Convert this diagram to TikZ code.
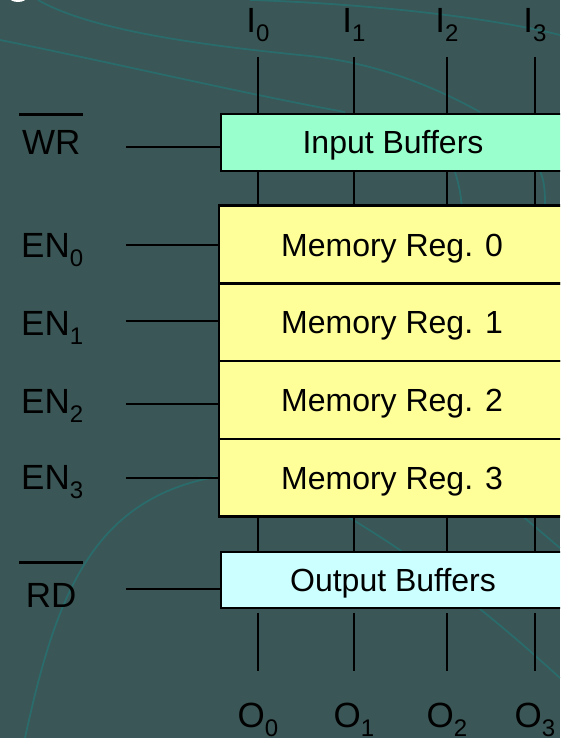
\documentclass[tikz,border=0pt]{standalone}
\usepackage{fontspec}
\setmainfont{Liberation Sans}
\usetikzlibrary{positioning}
\definecolor{memSlate}{RGB}{59,86,86}
\definecolor{memSwirl}{RGB}{42,108,108}
\definecolor{memMint}{RGB}{153,255,204}
\definecolor{memYellow}{RGB}{255,255,153}
\definecolor{memCyan}{RGB}{204,255,255}
\newcommand{\lowidx}[1]{\raisebox{-9pt}{\fontsize{24}{24}\selectfont #1}}
\newcommand{\barsig}[2][14pt]{\vbox{\hrule height 2.5pt\vskip #1\hbox to 64pt{\hss #2\hss}}}

\begin{document}
\begin{tikzpicture}[
  x=1pt, y=-1pt,
  buf/.style={
    draw,
    line width=2.5pt,
    minimum width=344pt,
    minimum height=57pt,
    outer sep=0pt,
    text height=23pt,
    text depth=0pt,
    font=\fontsize{32}{36}\selectfont
  },
  reg/.style={buf, fill=memYellow, minimum width=346pt, minimum height=77.75pt},
  sig/.style={font=\fontsize{35}{40}\selectfont, inner sep=0pt},
  wire/.style={line width=2.2pt},
  swirl/.style={memSwirl, line width=1.8pt}
]
  \path[use as bounding box, clip] (0,0) rectangle (560,738);
  \fill[memSlate] (0,0) rectangle (560,738);
  \fill[white] (18,-3) ellipse [x radius=9pt, y radius=5pt];
  \draw[swirl] (38,0) .. controls (90,30) and (200,45) .. (300,55)
    .. controls (380,62) and (440,90) .. (480,112);
  \draw[swirl] (0,40) .. controls (100,60) and (250,95) .. (345,112);
  \draw[swirl] (250,0) .. controls (350,3) and (480,15) .. (560,35);
  \draw[swirl] (430,120) .. controls (455,160) and (462,190) .. (462,215);
  \draw[swirl] (530,150) .. controls (545,180) .. (545,215);
  \draw[swirl] (25,738) .. controls (55,600) and (90,500) .. (215,477);
  \draw[swirl] (340,512) .. controls (420,560) and (480,605) .. (560,678);
  \draw[swirl] (520,514) -- (560,548);

  \node[buf, fill=memMint] (ib) at (393,142.5) {Input Buffers};
  \node[reg] (reg0) at (392,244.5) {Memory Reg. 0};
  \node[reg, below=0pt of reg0] (reg1) {Memory Reg. 1};
  \node[reg, below=0pt of reg1] (reg2) {Memory Reg. 2};
  \node[reg, below=0pt of reg2] (reg3) {Memory Reg. 3};
  \node[buf, fill=memCyan, minimum height=56pt] (ob) at (393,580) {Output Buffers};

  \foreach \i/\x in {0/258, 1/354, 2/447, 3/535} {
    \node[sig, anchor=base] (in\i) at (\x,33) {I\lowidx{\i}};
    \coordinate (ia\i) at (\x,57);
    \draw[wire] (ia\i) -- (ia\i |- ib.north);
    \draw[wire] (ia\i |- ib.south) -- (ia\i |- reg0.north);
    \draw[wire] (ia\i |- reg3.south) -- (ia\i |- ob.north);
    \coordinate (oa\i) at (\x,613);
    \coordinate (oz\i) at (\x,671);
    \draw[wire] (oa\i) -- (oz\i);
    \node[sig, anchor=base] (out\i) at (\x,727) {O\lowidx{\i}};
  }

  \node[sig, anchor=base west] (wr) at (19,155) {\barsig[15pt]{WR}};
  \coordinate (wrw) at (126,147);
  \draw[wire] (wrw) -- (wrw -| ib.west);

  \foreach \i/\yb/\yl in {0/257/245, 1/335/321, 2/413/404, 3/489/478} {
    \node[sig, anchor=base west] (en\i) at (21,\yb) {EN\lowidx{\i}};
    \coordinate (enw\i) at (126,\yl);
    \draw[wire] (enw\i) -- (enw\i -| reg0.west);
  }

  \node[sig, anchor=base west] (rd) at (19,607) {\barsig[19pt]{RD}};
  \coordinate (rdw) at (126,589);
  \draw[wire] (rdw) -- (rdw -| ob.west);
\end{tikzpicture}
\end{document}
